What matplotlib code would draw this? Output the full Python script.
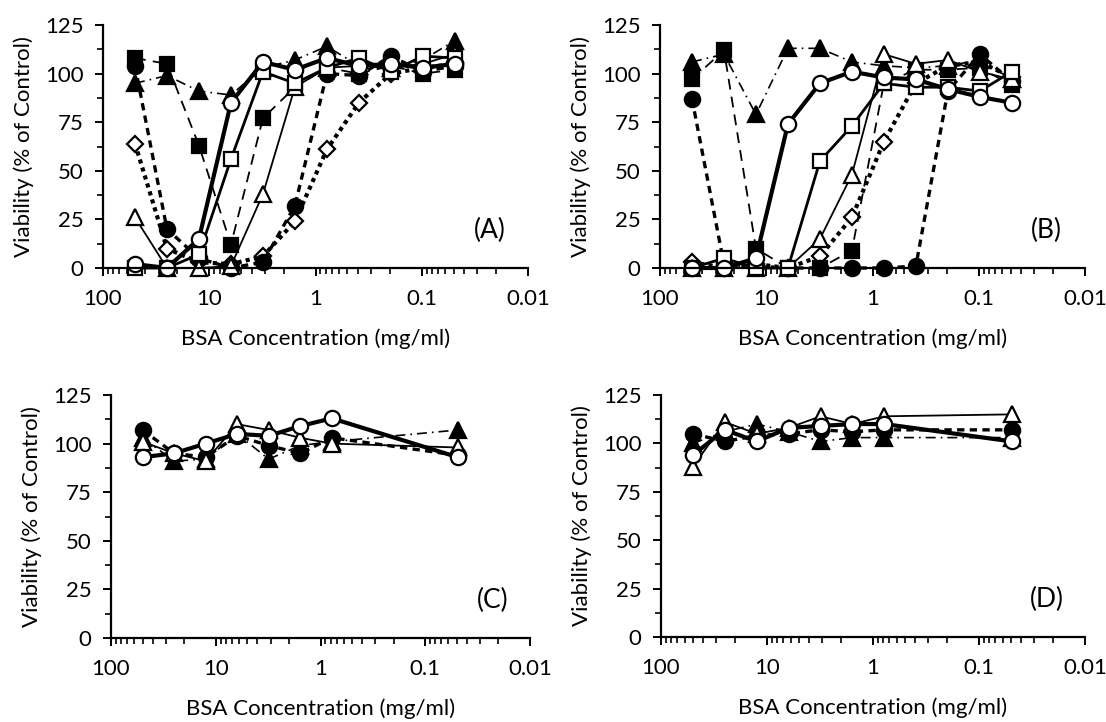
import matplotlib
matplotlib.use('Agg')
import matplotlib.pyplot as plt
from matplotlib.ticker import FixedLocator, LogLocator, NullFormatter

plt.rcParams['font.family'] = ['Lato', 'DejaVu Sans']

# BSA concentrations (mg/ml), two-fold dilutions
conc = [50, 25, 12.5, 6.25, 3.125, 1.5625, 0.78125, 0.390625, 0.1953, 0.0977, 0.0488]
conc_cd = [50, 25, 12.5, 6.25, 3.125, 1.5625, 0.78125, 0.0488]

# Panel A (% of control)
a_open_diamond = [64, 10, 3, 2, 6, 24, 61, 85, 100, 103, 105]
a_filled_circle = [104, 20, 5, 0, 3, 32, 100, 99, 109, 101, 104]
a_filled_square = [108, 105, 63, 12, 77, 93, 103, 100, 104, 100, 102]
a_filled_tri = [95, 99, 91, 89, 103, 107, 114, 104, 103, 107, 117]
a_open_tri = [26, 0, 0, 1, 38, 93, 103, 104, 103, 105, 110]
a_open_square = [0, 0, 7, 56, 101, 95, 103, 108, 101, 109, 108]
a_open_circle = [2, 0, 15, 85, 106, 102, 108, 104, 105, 103, 105]

# Panel B
b_open_diamond = [3, 0, 2, 0, 6, 26, 65, 95, 104, 106, 98]
b_filled_circle = [87, 2, 1, 0, 0, 0, 0, 1, 91, 110, 96]
b_filled_square = [97, 112, 10, 0, 0, 9, 95, 102, 102, 103, 94]
b_filled_tri = [106, 110, 79, 113, 113, 106, 104, 103, 104, 107, 97]
b_open_tri = [0, 0, 0, 0, 15, 48, 110, 105, 107, 101, 97]
b_open_square = [0, 5, 0, 0, 55, 73, 95, 93, 93, 91, 101]
b_open_circle = [0, 0, 5, 74, 95, 101, 98, 97, 92, 88, 85]

# Panel C
c_filled_circle = [107, 95, 93, 104, 99, 95, 103, 94]
c_filled_tri = [103, 91, 92, 105, 92, 99, 101, 107]
c_open_tri = [101, 95, 91, 110, 107, 103, 100, 98]
c_open_circle = [93, 95, 100, 105, 104, 109, 113, 93]

# Panel D
d_filled_circle = [105, 101, 104, 105, 107, 106, 107, 107]
d_filled_tri = [100, 106, 110, 106, 101, 103, 103, 103]
d_open_tri = [88, 111, 105, 108, 114, 110, 114, 115]
d_open_circle = [94, 107, 101, 108, 109, 110, 110, 101]

# series styles: marker, filled, linewidth, dash pattern, marker size
STYLES = {
    'open_diamond': ('D', False, 3.0, (0, (1, 1)), 8),
    'filled_circle': ('o', True, 2.4, (0, (2.2, 1.6)), 11),
    'filled_square': ('s', True, 1.3, (0, (6, 4)), 10),
    'filled_tri': ('^', True, 1.2, (0, (6, 3, 1, 3)), 12),
    'open_tri': ('^', False, 1.3, '-', 12),
    'open_square': ('s', False, 2.0, '-', 10),
    'open_circle': ('o', False, 3.0, '-', 11),
}

FS = 16


def draw(ax, x, y, key):
    marker, filled, lw, ls, ms = STYLES[key]
    ax.plot(x, y, color='black', lw=lw, linestyle=ls, marker=marker,
            markersize=ms, markerfacecolor='black' if filled else 'white',
            markeredgecolor='black', markeredgewidth=1.6, clip_on=False)


def style_axes(ax, label):
    ax.set_xscale('log')
    ax.set_xlim(100, 0.01)
    ax.set_ylim(0, 125)
    ax.set_xticks([100, 10, 1, 0.1, 0.01])
    ax.set_xticklabels(['100', '10', '1', '0.1', '0.01'])
    ax.xaxis.set_minor_locator(LogLocator(base=10, subs=range(2, 10)))
    ax.xaxis.set_minor_formatter(NullFormatter())
    ax.set_yticks([0, 25, 50, 75, 100, 125])
    ax.yaxis.set_minor_locator(FixedLocator([12.5, 37.5, 62.5, 87.5, 112.5]))
    for side in ('top', 'right'):
        ax.spines[side].set_visible(False)
    for side in ('left', 'bottom'):
        ax.spines[side].set_linewidth(1.6)
    ax.tick_params(which='major', length=6, width=1.4, labelsize=FS)
    ax.tick_params(axis='x', which='major', pad=9)
    ax.tick_params(axis='y', which='major', pad=8)
    ax.tick_params(which='minor', length=4, width=1.2)
    ax.set_xlabel('BSA Concentration (mg/ml)', fontsize=FS, labelpad=14)
    ax.set_ylabel('Viability (% of Control)', fontsize=FS, labelpad=8)
    ax.text(0.91, 0.155, label, transform=ax.transAxes, ha='center',
            va='center', fontsize=19)


W, H = 1106, 722
fig = plt.figure(figsize=(W / 100, H / 100), dpi=100)


def add_axes(left, right, top, bottom):
    return fig.add_axes([left / W, 1 - bottom / H, (right - left) / W, (bottom - top) / H])


ax_a = add_axes(103, 528, 25, 268)
ax_b = add_axes(660, 1085, 25, 268)
ax_c = add_axes(111, 530, 395, 638)
ax_d = add_axes(661, 1085, 395, 637)

draw(ax_a, conc, a_open_diamond, 'open_diamond')
draw(ax_a, conc, a_filled_circle, 'filled_circle')
draw(ax_a, conc, a_filled_square, 'filled_square')
draw(ax_a, conc, a_filled_tri, 'filled_tri')
draw(ax_a, conc, a_open_tri, 'open_tri')
draw(ax_a, conc, a_open_square, 'open_square')
draw(ax_a, conc, a_open_circle, 'open_circle')

draw(ax_b, conc, b_open_diamond, 'open_diamond')
draw(ax_b, conc, b_filled_circle, 'filled_circle')
draw(ax_b, conc, b_filled_square, 'filled_square')
draw(ax_b, conc, b_filled_tri, 'filled_tri')
draw(ax_b, conc, b_open_tri, 'open_tri')
draw(ax_b, conc, b_open_square, 'open_square')
draw(ax_b, conc, b_open_circle, 'open_circle')

draw(ax_c, conc_cd, c_filled_circle, 'filled_circle')
draw(ax_c, conc_cd, c_filled_tri, 'filled_tri')
draw(ax_c, conc_cd, c_open_tri, 'open_tri')
draw(ax_c, conc_cd, c_open_circle, 'open_circle')

draw(ax_d, conc_cd, d_filled_circle, 'filled_circle')
draw(ax_d, conc_cd, d_filled_tri, 'filled_tri')
draw(ax_d, conc_cd, d_open_tri, 'open_tri')
draw(ax_d, conc_cd, d_open_circle, 'open_circle')

for ax, label in zip([ax_a, ax_b, ax_c, ax_d], ['(A)', '(B)', '(C)', '(D)']):
    style_axes(ax, label)

fig.savefig('out.png', dpi=100)
